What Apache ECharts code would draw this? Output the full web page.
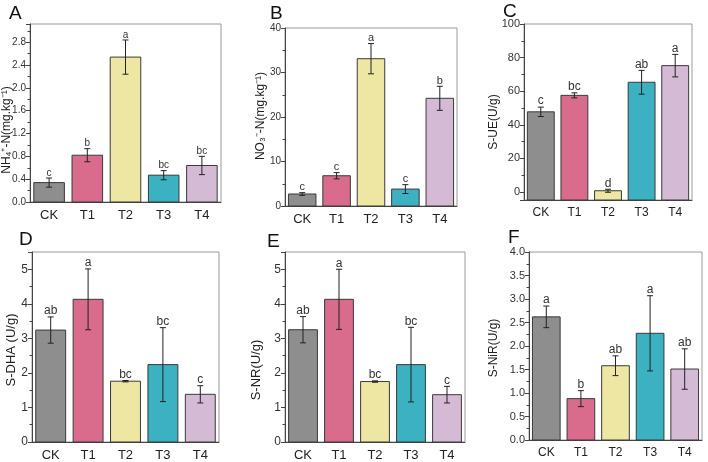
<!DOCTYPE html>
<html>
<head>
<meta charset="utf-8">
<script src="https://cdn.jsdelivr.net/npm/echarts@6/dist/echarts.min.js"></script>
<style>
  html, body { margin: 0; padding: 0; background: #fff; }
  #main { width: 708px; height: 462px; }
</style>
</head>
<body>
<div id="main"></div>
<script>
// 处理组
const categories = ["CK", "T1", "T2", "T3", "T4"];
const barColors = ["#8e8e8e", "#d96b8d", "#ede7a3", "#3cb1c1", "#d4bad4"];

// A NH4+-N
const nh4Mean = [0.34, 0.82, 2.54, 0.47, 0.64];
const nh4Err = [0.08, 0.115, 0.3, 0.08, 0.16];
const nh4Sig = ["c", "b", "a", "bc", "bc"];
// B NO3--N
const no3Mean = [2.7, 6.8, 33.1, 3.8, 24.2];
const no3Err = [0.3, 0.7, 3.4, 1.0, 2.7];
const no3Sig = ["c", "c", "a", "c", "b"];
// C S-UE
const ueMean = [47.7, 57.5, 0.7, 65.3, 75.2];
const ueErr = [2.8, 1.5, 0.9, 7.1, 6.7];
const ueSig = ["c", "bc", "d", "ab", "a"];
// D S-DHA
const dhaMean = [3.24, 4.13, 1.76, 2.24, 1.38];
const dhaErr = [0.38, 0.88, 0.02, 1.07, 0.25];
const dhaSig = ["ab", "a", "bc", "bc", "c"];
// E S-NR
const nrMean = [3.25, 4.13, 1.75, 2.24, 1.37];
const nrErr = [0.38, 0.87, 0.02, 1.08, 0.24];
const nrSig = ["ab", "a", "bc", "bc", "c"];
// F S-NiR
const nirMean = [2.62, 0.88, 1.58, 2.27, 1.51];
const nirErr = [0.23, 0.17, 0.21, 0.8, 0.43];
const nirSig = ["a", "b", "ab", "a", "ab"];

const FONT = "Liberation Sans, Arial, sans-serif";

// 每个子图 (namePos: y轴标题中心位置)
const panels = [
  { tag: "A", name: "NH\u2084\u207A-N(mg.kg\u207B\u00B9)", mean: nh4Mean, err: nh4Err, sig: nh4Sig,
    grid: { left: 30, top: 24, width: 191, height: 178 }, min: 0, max: 3.12, interval: 0.4, digits: 1,
    namePos: [7, 130], tickFont: 10, catFont: 13, sigFont: 10, nameFont: 12, tagPos: [9, 4] },
  { tag: "B", name: "NO\u2083\u207B-N(mg.kg\u207B\u00B9)", mean: no3Mean, err: no3Err, sig: no3Sig,
    grid: { left: 285, top: 28, width: 172, height: 178 }, min: 0, max: 40, interval: 10, digits: 0,
    namePos: [261, 116], tickFont: 10, catFont: 13, sigFont: 11, nameFont: 12, tagPos: [270, 4] },
  { tag: "C", name: "S-UE(U/g)", mean: ueMean, err: ueErr, sig: ueSig,
    grid: { left: 524, top: 24, width: 168, height: 176 }, min: -4.8, max: 100, interval: 20, digits: 0,
    namePos: [494, 122], tickFont: 11, catFont: 12, sigFont: 12, nameFont: 12, tagPos: [503, 2] },
  { tag: "D", name: "S-DHA (U/g)", mean: dhaMean, err: dhaErr, sig: dhaSig,
    grid: { left: 32, top: 252, width: 187, height: 193 }, min: 0, max: 5.5, interval: 1, digits: 0,
    namePos: [11, 350], tickFont: 12, catFont: 13, sigFont: 12, nameFont: 13, tagPos: [19, 230] },
  { tag: "E", name: "S-NR(U/g)", mean: nrMean, err: nrErr, sig: nrSig,
    grid: { left: 285, top: 252, width: 180, height: 192 }, min: 0, max: 5.5, interval: 1, digits: 0,
    namePos: [256, 370], tickFont: 12, catFont: 13, sigFont: 12, nameFont: 13, tagPos: [267, 232] },
  { tag: "F", name: "S-NiR(U/g)", mean: nirMean, err: nirErr, sig: nirSig,
    grid: { left: 529, top: 252, width: 173, height: 188 }, min: 0, max: 4, interval: 0.5, digits: 1,
    namePos: [494, 348], tickFont: 11, catFont: 12, sigFont: 12, nameFont: 12, tagPos: [508, 228] },
];

// 柱子+误差线+显著性字母
const makeRender = (p) => (params, api) => {
  const i = params.dataIndex;
  const mean = api.value(1);
  const err = api.value(2);
  const band = api.size([1, 0])[0];
  const w = band * 0.8;
  const top = api.coord([i, mean]);
  const base = api.coord([i, p.min]);
  const hi = api.coord([i, mean + err]);
  const lo = api.coord([i, mean - err]);
  const cap = 3;
  const line = (x1, y1, x2, y2) => ({
    type: "line",
    shape: { x1, y1, x2, y2 },
    style: { stroke: "#222", lineWidth: 1 },
  });
  return {
    type: "group",
    children: [
      {
        type: "rect",
        shape: { x: top[0] - w / 2, y: top[1], width: w, height: base[1] - top[1] },
        style: { fill: barColors[i], stroke: "#3a3a3a", lineWidth: 1 },
      },
      line(hi[0], hi[1], lo[0], lo[1]),
      line(hi[0] - cap, hi[1], hi[0] + cap, hi[1]),
      line(lo[0] - cap, lo[1], lo[0] + cap, lo[1]),
      {
        type: "text",
        x: hi[0],
        y: hi[1],
        style: {
          text: p.sig[i],
          fill: "#333",
          font: p.sigFont + "px " + FONT,
          align: "center",
          verticalAlign: "bottom",
        },
      },
    ],
  };
};

const option = {
  animation: false,
  grid: [],
  xAxis: [],
  yAxis: [],
  series: [],
  graphic: [],
};

panels.forEach((p, k) => {
  option.grid.push({
    ...p.grid,
    show: true,
    borderColor: "#9a9a9a",
    borderWidth: 1,
    backgroundColor: "transparent",
  });
  option.xAxis.push({
    type: "category",
    gridIndex: k,
    data: categories,
    axisLine: { onZero: false, lineStyle: { color: "#444", width: 1 } },
    axisTick: { alignWithLabel: true, length: 4, lineStyle: { color: "#444" } },
    axisLabel: { color: "#222", fontSize: p.catFont, fontFamily: FONT, margin: 7 },
  });
  const yAxis = {
    type: "value",
    gridIndex: k,
    min: p.min,
    max: p.max,
    axisLine: { show: true, lineStyle: { color: "#444", width: 1 } },
    axisTick: { show: true, length: 4, lineStyle: { color: "#444" } },
    minorTick: { show: true, splitNumber: 2, length: 2.5, lineStyle: { color: "#444" } },
    splitLine: { show: false },
    axisLabel: {
      color: "#333",
      fontSize: p.tickFont,
      fontFamily: FONT,
      margin: 4,
      showMinLabel: p.min === 0,
      showMaxLabel: p.max % p.interval === 0,
      formatter: (v) => v.toFixed(p.digits),
    },
  };
  if (p.min % p.interval === 0) {
    yAxis.interval = p.interval;
  } else {
    // C图的最小值不是整数倍，用minInterval控制刻度
    yAxis.minInterval = p.interval;
    yAxis.maxInterval = p.interval;
    yAxis.splitNumber = 5;
  }
  option.yAxis.push(yAxis);
  option.series.push({
    type: "custom",
    xAxisIndex: k,
    yAxisIndex: k,
    encode: { x: 0, y: 1 },
    renderItem: makeRender(p),
    data: p.mean.map((m, i) => [i, m, p.err[i]]),
  });
  // 子图编号
  option.graphic.push({
    type: "text",
    left: p.tagPos[0],
    top: p.tagPos[1],
    style: { text: p.tag, fill: "#111", font: "19px " + FONT },
  });
  // y轴标题
  option.graphic.push({
    type: "text",
    x: p.namePos[0],
    y: p.namePos[1],
    rotation: Math.PI / 2,
    style: {
      text: p.name,
      fill: "#222",
      font: p.nameFont + "px " + FONT,
      align: "center",
      verticalAlign: "middle",
    },
  });
});

const chart = echarts.init(document.getElementById("main"));
chart.setOption(option);
</script>
</body>
</html>
